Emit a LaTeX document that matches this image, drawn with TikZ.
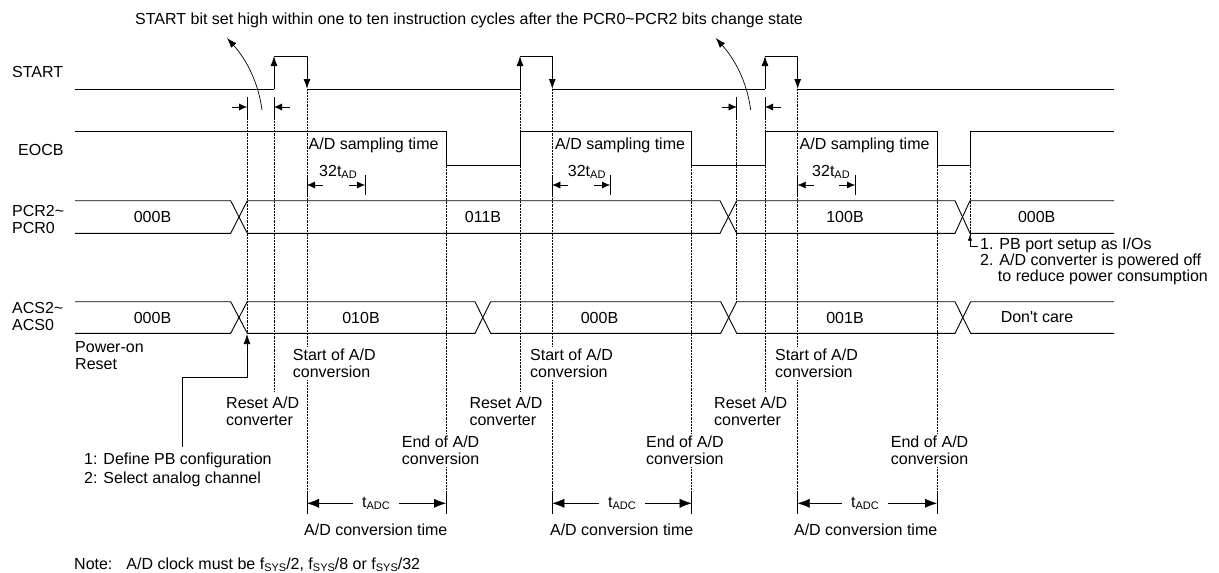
\documentclass[tikz,border=0pt]{standalone}
\usepackage{fontspec}
\setmainfont{Liberation Sans}
\usepackage{tikz}
\usetikzlibrary{arrows.meta}
\newcommand{\subtxt}[1]{\raisebox{-1.5pt}{\fontsize{11}{11}\selectfont #1}}

\begin{document}
\begin{tikzpicture}[x=1pt,y=-1pt,
  wave/.style={line width=0.9pt},
  guide/.style={densely dotted, line width=0.45pt},
  lbl/.style={inner sep=0pt, align=left, font=\fontsize{16}{17}\selectfont},
  edgetip/.style={-{Latex[length=10pt,width=7pt]}},
  dimtip/.style={-{Latex[length=8pt,width=7pt]}},
  bigtip/.style={-{Latex[length=12pt,width=9pt]}},
  smalltip/.style={-{Latex[length=6pt,width=4pt]}}]
\useasboundingbox (0,0) rectangle (1219,573);

% Heading
\node[lbl, anchor=west] (head) at (135,20) {START bit set high within one to ten instruction cycles after the PCR0\textasciitilde PCR2 bits change state};
\coordinate (bend1) at (262,110);
\coordinate (bend1t) at (227,38);
\coordinate (bend2) at (750.7,110);
\coordinate (bend2t) at (715.7,38);
\draw[edgetip, line width=0.7pt] (bend1) .. controls (258,80) and (245,58) .. (bend1t);
\draw[edgetip, line width=0.7pt] (bend2) .. controls (746.7,80) and (733.7,58) .. (bend2t);

% Signal names
\node[lbl, anchor=west] (nstart) at (12,71.7) {START};
\node[lbl, anchor=west] (neocb) at (18,150) {EOCB};
\node[lbl, anchor=west] (npcr) at (12,219.5) {PCR2\textasciitilde\\PCR0};
\node[lbl, anchor=west] (nacs) at (12,316) {ACS2\textasciitilde\\ACS0};

% Guides
\draw[guide] (247,118) -- (247,333);
\draw[guide] (274,118) -- (274,391.7);
\draw[guide] (307,89) -- (307,492);
\draw[guide] (446,165.7) -- (446,492);
\draw[guide] (520,89) -- (520,391.7);
\draw[guide] (552.3,89) -- (552.3,492);
\draw[guide] (691.7,165.7) -- (691.7,492);
\draw[guide] (736.7,118) -- (736.7,301.7);
\draw[guide] (765,118) -- (765,391.7);
\draw[guide] (797.7,89) -- (797.7,492);
\draw[guide] (937,165.7) -- (937,492);
\draw[guide] (970,165.7) -- (970,236);

% START
\draw[wave] (75,89) -- (274,89);
\draw[wave, edgetip] (274,89) -- (274,56);
\draw[wave] (274,56) -- (307,56);
\draw[wave, edgetip] (307,56) -- (307,89);
\draw[wave] (307,89) -- (520,89);
\draw[wave, edgetip] (520,89) -- (520,56);
\draw[wave] (520,56) -- (552.3,56);
\draw[wave, edgetip] (552.3,56) -- (552.3,89);
\draw[wave] (552.3,89) -- (765,89);
\draw[wave, edgetip] (765,89) -- (765,56);
\draw[wave] (765,56) -- (797.7,56);
\draw[wave, edgetip] (797.7,56) -- (797.7,89);
\draw[wave] (797.7,89) -- (1114,89);

% change window
\draw[wave] (247,97) -- (247,118) (274,97) -- (274,118);
\draw[dimtip] (232,107) -- (247,107);
\draw[dimtip] (289.5,107) -- (274,107);
\draw[wave] (736.7,97) -- (736.7,118) (765,97) -- (765,118);
\draw[dimtip] (721.5,107) -- (736.7,107);
\draw[dimtip] (780.5,107) -- (765,107);

% EOCB
\draw[wave] (75,131.7) -- (446,131.7) -- (446,165.7) -- (520,165.7) -- (520,131.7)
  -- (691.7,131.7) -- (691.7,165.7) -- (765,165.7) -- (765,131.7)
  -- (937,131.7) -- (937,165.7) -- (970,165.7) -- (970,131.7) -- (1114,131.7);
\node[lbl, anchor=west] (samp1) at (308.5,145.7) {A/D sampling time};
\node[lbl, anchor=west] (samp2) at (555,145.7) {A/D sampling time};
\node[lbl, anchor=west] (samp3) at (799.5,145.7) {A/D sampling time};

% 32tAD
\node[lbl] (tad1) at (338,171.7) {32t\subtxt{AD}};
\node[lbl] (tad2) at (586.7,171.7) {32t\subtxt{AD}};
\node[lbl] (tad3) at (831,171.7) {32t\subtxt{AD}};
\draw[wave] (307,175) -- (307,195) (365,175) -- (365,195);
\draw[dimtip] (323,185) -- (307,185);
\draw[dimtip] (349,185) -- (365,185);
\draw[wave] (552.3,175) -- (552.3,195) (610,175) -- (610,195);
\draw[dimtip] (568.3,185) -- (552.3,185);
\draw[dimtip] (594,185) -- (610,185);
\draw[wave] (797.7,175) -- (797.7,195) (855,175) -- (855,195);
\draw[dimtip] (813.7,185) -- (797.7,185);
\draw[dimtip] (839,185) -- (855,185);

% PCR2~PCR0
\draw[wave] (75,200.7) -- (230.7,200.7) -- (247.3,233.3) -- (720,233.3) -- (736.7,200.7)
  -- (955,200.7) -- (970,233.3) -- (1114,233.3);
\draw[wave] (75,233.3) -- (230.7,233.3) -- (247.3,200.7) -- (720,200.7) -- (736.7,233.3)
  -- (955,233.3) -- (970,200.7) -- (1114,200.7);
\node[lbl] (pcra) at (152.5,217) {000B};
\node[lbl] (pcrb) at (483,217) {011B};
\node[lbl] (pcrc) at (845,217) {100B};
\node[lbl] (pcrd) at (1036.7,217) {000B};

% ACS2~ACS0
\draw[wave] (75,301.7) -- (230.7,301.7) -- (247.3,333.3) -- (475,333.3) -- (490.7,301.7)
  -- (720.7,301.7) -- (736.7,333.3) -- (955,333.3) -- (970.7,301.7) -- (1114,301.7);
\draw[wave] (75,333.3) -- (230.7,333.3) -- (247.3,301.7) -- (475,301.7) -- (490.7,333.3)
  -- (720.7,333.3) -- (736.7,301.7) -- (955,301.7) -- (970.7,333.3) -- (1114,333.3);
\node[lbl] (acsa) at (152.5,317.5) {000B};
\node[lbl] (acsb) at (361,317.5) {010B};
\node[lbl] (acsc) at (599.5,317.5) {000B};
\node[lbl] (acsd) at (845,317.5) {001B};
\node[lbl] (acse) at (1037,317.5) {Don\textquotesingle t care};

% Notes on the right
\node[lbl, anchor=west, font=\fontsize{16}{16}\selectfont] (pbnote) at (980,261.7)
  {1. PB port setup as I/Os\\2. A/D converter is powered off\\\phantom{2.}\ to reduce power consumption};
\draw[smalltip] (978,246.5) -- (970,246.5) -- (970,234.5);

% Events below
\node[lbl, anchor=west] (por) at (75,356) {Power-on\\Reset};
\node[lbl, anchor=west, fill=white, inner ysep=2pt] (soc1) at (292.7,363.3) {Start of A/D\\conversion};
\node[lbl, anchor=west, fill=white, inner ysep=2pt] (soc2) at (530,363.3) {Start of A/D\\conversion};
\node[lbl, anchor=west, fill=white, inner ysep=2pt] (soc3) at (775,363.3) {Start of A/D\\conversion};
\node[lbl, anchor=west] (rst1) at (226,411.7) {Reset A/D\\converter};
\node[lbl, anchor=west] (rst2) at (469.3,411.7) {Reset A/D\\converter};
\node[lbl, anchor=west] (rst3) at (714,411.7) {Reset A/D\\converter};
\node[lbl, anchor=west, fill=white, inner ysep=2pt] (eoc1) at (401.7,450.3) {End of A/D\\conversion};
\node[lbl, anchor=west, fill=white, inner ysep=2pt] (eoc2) at (646,450.3) {End of A/D\\conversion};
\node[lbl, anchor=west, fill=white, inner ysep=2pt] (eoc3) at (890.7,450.3) {End of A/D\\conversion};
\node[lbl, anchor=west, font=\fontsize{16}{19}\selectfont] (define) at (84,469.5)
  {1: Define PB configuration\\2: Select analog channel};
\coordinate (pbfoot) at (182,447);
\draw[edgetip, line width=0.7pt] (pbfoot) -- (182,377.3) -- (247,377.3) -- (247,334);

% Conversion time
\node[lbl, inner xsep=9pt] (tadc1) at (376,503.3) {t\subtxt{ADC}};
\node[lbl, inner xsep=9pt] (tadc2) at (622,503.3) {t\subtxt{ADC}};
\node[lbl, inner xsep=9pt] (tadc3) at (865,503.3) {t\subtxt{ADC}};
\draw[wave] (307,492) -- (307,514) (446,492) -- (446,514);
\draw[wave] (552.3,492) -- (552.3,514) (691.7,492) -- (691.7,514);
\draw[wave] (797.7,492) -- (797.7,514) (937,492) -- (937,514);
\draw[bigtip] (tadc1.west) -- (307,503.3);
\draw[bigtip] (tadc1.east) -- (446,503.3);
\draw[bigtip] (tadc2.west) -- (552.3,503.3);
\draw[bigtip] (tadc2.east) -- (691.7,503.3);
\draw[bigtip] (tadc3.west) -- (797.7,503.3);
\draw[bigtip] (tadc3.east) -- (937,503.3);
\node[lbl] (ctime1) at (375.8,530) {A/D conversion time};
\node[lbl] (ctime2) at (621.7,530) {A/D conversion time};
\node[lbl] (ctime3) at (865.7,530) {A/D conversion time};

% Note
\node[lbl, anchor=west] (note) at (74,565) {Note:\hspace{14pt}A/D clock must be f\subtxt{SYS}/2, f\subtxt{SYS}/8 or f\subtxt{SYS}/32};
\end{tikzpicture}
\end{document}
